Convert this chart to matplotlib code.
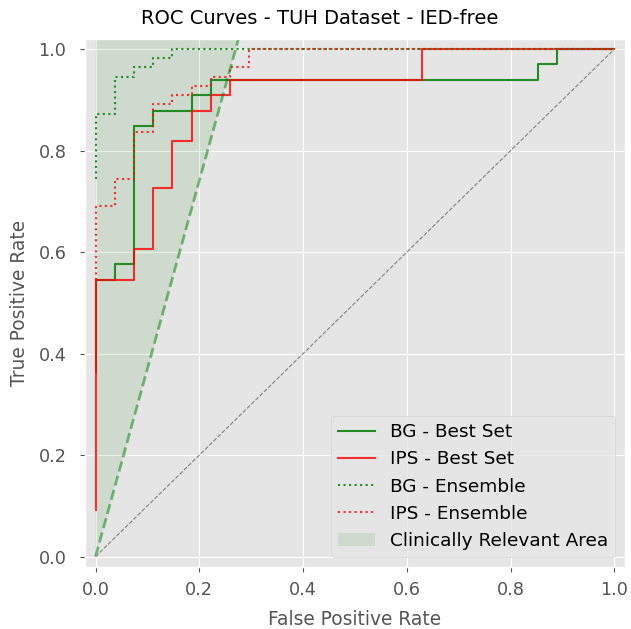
import matplotlib
matplotlib.use("Agg")
import matplotlib.pyplot as plt

# ROC corner points
bg_best_fpr = [0.0, 0.0, 0.037, 0.037, 0.074, 0.074, 0.111, 0.111, 0.185, 0.185,
               0.222, 0.222, 0.852, 0.852, 0.889, 0.889, 1.0]
bg_best_tpr = [0.364, 0.545, 0.545, 0.576, 0.576, 0.848, 0.848, 0.879, 0.879, 0.909,
               0.909, 0.939, 0.939, 0.970, 0.970, 1.0, 1.0]

ips_best_fpr = [0.0, 0.0, 0.074, 0.074, 0.111, 0.111, 0.148, 0.148, 0.185, 0.185,
                0.222, 0.222, 0.259, 0.259, 0.630, 0.630, 1.0]
ips_best_tpr = [0.091, 0.545, 0.545, 0.606, 0.606, 0.727, 0.727, 0.818, 0.818, 0.879,
                0.879, 0.909, 0.909, 0.939, 0.939, 1.0, 1.0]

bg_ens_fpr = [0.0, 0.0, 0.037, 0.037, 0.074, 0.074, 0.111, 0.111, 0.148, 0.148, 1.0]
bg_ens_tpr = [0.745, 0.873, 0.873, 0.945, 0.945, 0.964, 0.964, 0.982, 0.982, 1.0, 1.0]

ips_ens_fpr = [0.0, 0.0, 0.037, 0.037, 0.074, 0.074, 0.111, 0.111, 0.148, 0.148,
               0.185, 0.185, 0.222, 0.222, 0.259, 0.259, 0.296, 0.296, 1.0]
ips_ens_tpr = [0.545, 0.691, 0.691, 0.745, 0.745, 0.836, 0.836, 0.891, 0.891, 0.909,
               0.909, 0.927, 0.927, 0.945, 0.945, 0.964, 0.964, 1.0, 1.0]

# boundary of the clinically relevant area (FPR = 0.27 * TPR)
clinical_fpr = [0.0, 0.3]
clinical_tpr = [0.0, 0.3 / 0.27]

plt.style.use("ggplot")
fig, ax = plt.subplots(figsize=(6.31, 6.29), dpi=100)

ax.plot(bg_best_fpr, bg_best_tpr, color="forestgreen", lw=1.5, label="BG - Best Set")
ax.plot(ips_best_fpr, ips_best_tpr, color="red", lw=1.5, alpha=0.8, label="IPS - Best Set")
ax.plot(bg_ens_fpr, bg_ens_tpr, color="forestgreen", lw=1.5, ls=":", label="BG - Ensemble")
ax.plot(ips_ens_fpr, ips_ens_tpr, color="red", lw=1.5, ls=":", alpha=0.8, label="IPS - Ensemble")

ax.fill([clinical_fpr[0], clinical_fpr[1], clinical_fpr[0]],
        [clinical_tpr[0], clinical_tpr[1], clinical_tpr[1]],
        color="green", alpha=0.1, lw=0, label="Clinically Relevant Area")
ax.plot(clinical_fpr, clinical_tpr, color="green", ls="--", lw=2, alpha=0.5)
ax.plot([0, 1], [0, 1], color="gray", ls="--", lw=0.8)

ax.set_xlim(-0.02, 1.02)
ax.set_ylim(-0.02, 1.02)
ax.tick_params(axis="x", labelsize=12.7, pad=7)
ax.tick_params(axis="y", labelsize=12.7, pad=10)
ax.set_xlabel("False Positive Rate", fontsize=13.4, labelpad=8)
ax.set_ylabel("True Positive Rate", fontsize=13.4, labelpad=7)
fig.suptitle("ROC Curves - TUH Dataset - IED-free", fontsize=14,
             x=0.507, y=0.9626, va="baseline")
ax.legend(loc="lower right", fontsize=13.3)

fig.subplots_adjust(left=0.135, right=0.99, top=0.938, bottom=0.099)
fig.savefig("out.png", dpi=100)
